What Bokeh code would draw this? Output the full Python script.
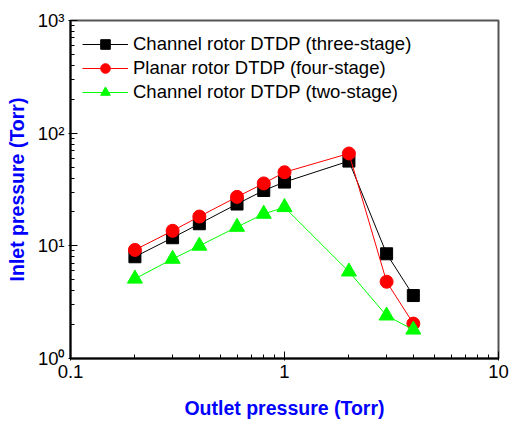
from bokeh.plotting import figure
from bokeh.models import FixedTicker, CustomJSTickFormatter, Legend, LegendItem, Range1d
from bokeh.embed import file_html
from bokeh.resources import INLINE

outlet = [0.2, 0.3, 0.4, 0.6, 0.8, 1, 2, 3, 4]
three_stage = [8.0, 11.8, 15.7, 23.5, 31.0, 36.8, 56.5, 8.5, 3.62]
four_stage = [9.2, 13.6, 18.2, 27.2, 35.8, 45.0, 66.0, 4.8, 2.04]
two_stage = [5.1, 7.65, 10.0, 14.7, 19.2, 22.0, 5.9, 2.4, 1.8]

labels = ["Channel rotor DTDP (three-stage)",
          "Planar rotor DTDP (four-stage)",
          "Channel rotor DTDP (two-stage)"]

x_major = [0.1, 1, 10]
y_major = [1, 10, 100, 1000]

FONT = "Liberation Sans"

p = figure(width=509, height=421, x_axis_type="log", y_axis_type="log",
           x_range=Range1d(0.1, 10), y_range=Range1d(1, 1000),
           output_backend="svg", toolbar_location=None,
           min_border_left=70, min_border_right=11, min_border_top=20, min_border_bottom=63)

p.background_fill_color = "white"
p.border_fill_color = "white"
p.outline_line_color = "#555555"
p.outline_line_width = 2
p.xgrid.visible = False
p.ygrid.visible = False

xminor = [m * d for d in (0.1, 1) for m in range(2, 10)]
yminor = [m * d for d in (1, 10, 100) for m in range(2, 10)]
p.xaxis.ticker = FixedTicker(ticks=x_major, minor_ticks=xminor)
p.yaxis.ticker = FixedTicker(ticks=y_major, minor_ticks=yminor)
p.xaxis.formatter = CustomJSTickFormatter(code="return tick < 1 ? tick.toFixed(1) : tick.toFixed(0);")
p.yaxis.formatter = CustomJSTickFormatter(code="""
const sup = {'0':'\u2070','1':'\u00b9','2':'\u00b2','3':'\u00b3'};
return '10' + sup[String(Math.round(Math.log10(tick)))];
""")

for ax in (p.xaxis[0], p.yaxis[0]):
    ax.axis_line_color = "black"
    ax.axis_line_width = 2
    ax.major_tick_line_color = "black"
    ax.minor_tick_line_color = "black"
    ax.major_tick_in = 7
    ax.major_tick_out = 2
    ax.minor_tick_in = 4
    ax.minor_tick_out = 0
    ax.major_label_text_font = FONT
    ax.major_label_text_font_size = "18.5px"
    ax.major_label_text_color = "black"
    ax.axis_label_text_font = FONT
    ax.axis_label_text_font_size = "19.5px"
    ax.axis_label_text_font_style = "bold"
    ax.axis_label_text_color = "#0000FF"

p.xaxis.axis_label = "Outlet pressure (Torr)"
p.yaxis.axis_label = "Inlet pressure (Torr)"
p.xaxis.major_label_standoff = 4
p.xaxis.axis_label_standoff = 16
p.yaxis.major_label_standoff = 4
p.yaxis.axis_label_standoff = 7

l1 = p.line(outlet, three_stage, line_color="black", line_width=1)
m1 = p.scatter(outlet, three_stage, marker="square", size=12, fill_color="black", line_color="black")
l2 = p.line(outlet, four_stage, line_color="#FF0000", line_width=1)
m2 = p.scatter(outlet, four_stage, marker="circle", size=13, fill_color="#FF0000", line_color="#FF0000")
l3 = p.line(outlet, two_stage, line_color="#00FF00", line_width=1)
m3 = p.scatter(outlet, two_stage, marker="triangle", size=15, fill_color="#00FF00", line_color="#00FF00")

legend = Legend(items=[LegendItem(label=labels[0], renderers=[l1, m1]),
                       LegendItem(label=labels[1], renderers=[l2, m2]),
                       LegendItem(label=labels[2], renderers=[l3, m3])],
                location=(12, 254))
legend.border_line_color = None
legend.background_fill_alpha = 0
legend.margin = 0
legend.padding = 0
legend.spacing = 0
legend.glyph_width = 46
legend.glyph_height = 24
legend.label_height = 20
legend.label_standoff = 5
legend.label_text_font = FONT
legend.label_text_font_size = "18.5px"
legend.label_text_color = "black"
p.add_layout(legend)

open("out.html", "w").write(file_html(p, INLINE))
